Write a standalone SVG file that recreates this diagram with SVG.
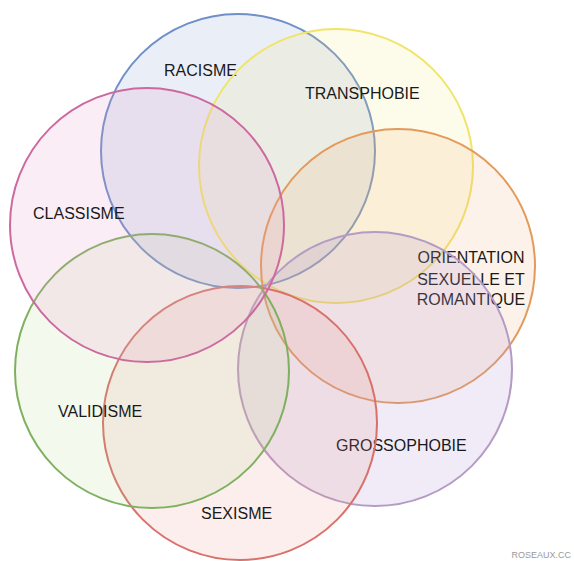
<svg xmlns="http://www.w3.org/2000/svg" width="574" height="561" viewBox="0 0 574 561">
<style>
.c{stroke-width:2}
.t{font-family:"Liberation Sans",Arial,sans-serif;font-size:16px;fill:#1a1a1a}
</style>
<rect width="574" height="561" fill="#ffffff"/>
<g id="racisme"><circle class="c" cx="238" cy="151" r="137" fill="#6f8fc8" fill-opacity="0.15" stroke="#6f8fc8"/><text class="t" x="164" y="76">RACISME</text></g>
<g id="transphobie"><circle class="c" cx="336" cy="166" r="137" fill="#f3ea7a" fill-opacity="0.15" stroke="#f0e46a"/><text class="t" x="305" y="99">TRANSPHOBIE</text></g>
<g id="orientation"><circle class="c" cx="398" cy="266" r="137" fill="#efa569" fill-opacity="0.15" stroke="#e39a5a"/><text class="t" text-anchor="middle"><tspan x="471" y="263">ORIENTATION</tspan><tspan x="471" y="285">SEXUELLE ET</tspan><tspan x="471" y="305">ROMANTIQUE</tspan></text></g>
<g id="grossophobie"><circle class="c" cx="375" cy="369" r="137" fill="#b39cd0" fill-opacity="0.2" stroke="#b49ac4"/><text class="t" x="336" y="451">GROSSOPHOBIE</text></g>
<g id="sexisme"><circle class="c" cx="240" cy="423" r="137" fill="#e88a88" fill-opacity="0.15" stroke="#d9706a"/><text class="t" x="201" y="519">SEXISME</text></g>
<g id="validisme"><circle class="c" cx="152" cy="371" r="137" fill="#b5d78f" fill-opacity="0.15" stroke="#7fb060"/><text class="t" x="58" y="417">VALIDISME</text></g>
<g id="classisme"><circle class="c" cx="147" cy="225" r="137" fill="#e59ac5" fill-opacity="0.18" stroke="#cc6aa0"/><text class="t" x="33" y="219">CLASSISME</text></g>
<g id="connectors"></g>
<text x="571" y="558" text-anchor="end" font-family="Liberation Sans,Arial,sans-serif" font-size="9" fill="#999999">ROSEAUX.CC</text>
</svg>
